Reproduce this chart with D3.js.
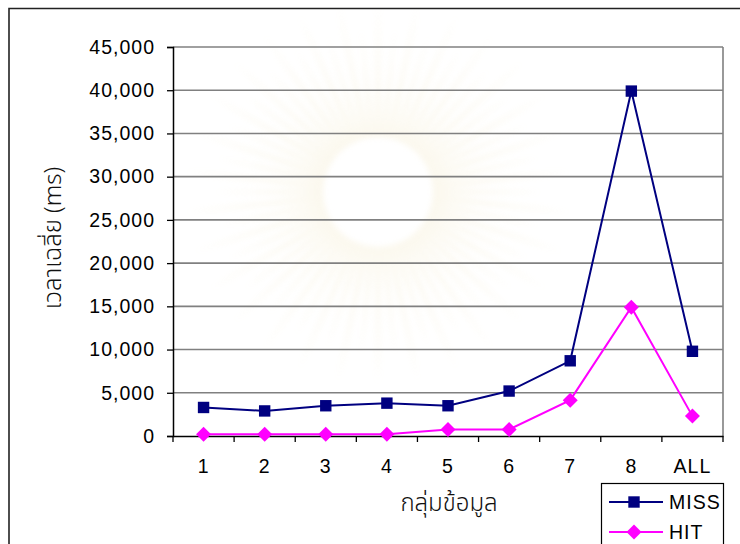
<!DOCTYPE html>
<html>
<head>
<meta charset="utf-8">
<script src="https://cdn.jsdelivr.net/npm/d3@7"></script>
<style>
  html, body { margin: 0; padding: 0; background: #fff; }
  svg { display: block; }
  .tick-label { font-family: "Liberation Sans", Arial, sans-serif; font-size: 19.5px; letter-spacing: 1px; fill: #000; }
  .thai { font-family: "Noto Sans Thai", "Tahoma", "Loma", "Garuda", "Noto Sans", sans-serif; font-size: 24px; font-weight: 300; fill: #111; }
</style>
</head>
<body>
<svg id="chart" width="740" height="544"></svg>
<script>
// Average response time per data group
const categories = ["1", "2", "3", "4", "5", "6", "7", "8", "ALL"];
const missValues = [3300, 2900, 3500, 3800, 3500, 5200, 8700, 39900, 9800];
const hitValues  = [200, 200, 200, 200, 750, 750, 4150, 14900, 2300];
const yTicks = [0, 5000, 10000, 15000, 20000, 25000, 30000, 35000, 40000, 45000];
const seriesNames = ["MISS", "HIT"];

const svg = d3.select("#chart");
const W = 740, H = 544;
const plot = { left: 173, right: 723, top: 47, bottom: 436 };

// faint seal-like sunburst in the background
const bg = svg.append("g").attr("opacity", 0.35);
const defs = svg.append("defs");
defs.append("filter").attr("id", "soft")
  .append("feGaussianBlur").attr("stdDeviation", 3);
const cx = 378, cy = 192;
const rays = d3.range(0, 360, 6);
bg.append("g").attr("filter", "url(#soft)")
  .selectAll("path").data(rays).join("path")
  .attr("d", a => {
    const r0 = 50, r1 = 165 + (Math.round(a / 6) % 2) * 30;
    const t = a * Math.PI / 180, dt = 2.2 * Math.PI / 180;
    const p = (r, ang) => [cx + r * Math.cos(ang), cy + r * Math.sin(ang)];
    return d3.line()([p(r0, t - dt), p(r1, t), p(r0, t + dt)]) + "Z";
  })
  .attr("fill", "#eedfae");
bg.append("circle").attr("cx", cx).attr("cy", cy).attr("r", 55).attr("fill", "#fff").attr("filter", "url(#soft)");

// outer frame (top and left edges visible)
svg.append("path")
  .attr("d", `M9,${H + 2} L9,8.5 L${W + 2},8.5`)
  .attr("fill", "none").attr("stroke", "#222").attr("stroke-width", 1.6);

const x = d3.scaleBand().domain(categories).range([plot.left, plot.right]);
const y = d3.scaleLinear().domain([0, 45000]).range([plot.bottom, plot.top]);

// horizontal gridlines
svg.append("g").selectAll("line").data(yTicks.filter(d => d > 0)).join("line")
  .attr("x1", plot.left).attr("x2", plot.right)
  .attr("y1", d => y(d)).attr("y2", d => y(d))
  .attr("stroke", "#808080").attr("stroke-width", 1.6);
// right edge of the plot area
svg.append("line")
  .attr("x1", plot.right).attr("x2", plot.right)
  .attr("y1", plot.top).attr("y2", plot.bottom)
  .attr("stroke", "#808080").attr("stroke-width", 1.6);

// y axis
const fmt = d3.format(",");
const yAxis = svg.append("g").attr("transform", `translate(${plot.left},0)`)
  .call(d3.axisLeft(y).tickValues(yTicks).tickFormat(fmt).tickSize(6).tickPadding(12));
yAxis.select(".domain").attr("stroke", "#000").attr("stroke-width", 1.5);
yAxis.selectAll(".tick line").attr("stroke", "#000").attr("stroke-width", 1.3);
yAxis.selectAll(".tick text").attr("class", "tick-label").attr("font-family", null).attr("font-size", null);

// x axis with ticks on category boundaries
const xAxis = svg.append("g").attr("transform", `translate(0,${plot.bottom})`)
  .call(d3.axisBottom(x).tickSize(0).tickPadding(23));
xAxis.select(".domain").attr("stroke", "#000").attr("stroke-width", 1.5);
xAxis.selectAll(".tick text").attr("class", "tick-label").attr("font-family", null).attr("font-size", null);
const boundaries = categories.map(c => x(c)).concat([x.range()[1]]);
xAxis.selectAll(".bound").data(boundaries).join("line")
  .attr("class", "bound")
  .attr("x1", d => d).attr("x2", d => d)
  .attr("y1", 0).attr("y2", 6)
  .attr("stroke", "#000").attr("stroke-width", 1.3);

// axis titles
svg.append("text").attr("class", "thai")
  .attr("text-anchor", "middle")
  .attr("x", 449).attr("y", 511)
  .text("กลุ่มข้อมูล");
svg.append("text").attr("class", "thai")
  .attr("text-anchor", "middle")
  .attr("transform", "translate(61,238) rotate(-90)")
  .text("เวลาเฉลี่ย (ms)");

// marker shapes: filled square and a square diamond
const squareMark = d3.symbol().type(d3.symbolSquare).size(130);
const diamondMark = () => "M0,-7.5L7.5,0L0,7.5L-7.5,0Z";

// series
const cxOf = c => x(c) + x.bandwidth() / 2;
const lineGen = d3.line().x(d => cxOf(d.c)).y(d => y(d.v));
const series = [
  { name: seriesNames[0], values: missValues, color: "#000080", mark: squareMark },
  { name: seriesNames[1], values: hitValues, color: "#ff00ff", mark: diamondMark }
];
series.forEach(s => {
  const pts = categories.map((c, i) => ({ c, v: s.values[i] }));
  svg.append("path").datum(pts)
    .attr("d", lineGen).attr("fill", "none")
    .attr("stroke", s.color).attr("stroke-width", 2);
  svg.append("g").selectAll("path").data(pts).join("path")
    .attr("transform", d => `translate(${cxOf(d.c)},${y(d.v)})`)
    .attr("d", s.mark)
    .attr("fill", s.color);
});

// legend
const lg = svg.append("g");
lg.append("rect").attr("x", 601.5).attr("y", 483.5).attr("width", 122).attr("height", 70)
  .attr("fill", "#fff").attr("stroke", "#000").attr("stroke-width", 1.2);
series.forEach((s, i) => {
  const ly = 502 + i * 30;
  lg.append("line").attr("x1", 609).attr("x2", 663).attr("y1", ly).attr("y2", ly)
    .attr("stroke", s.color).attr("stroke-width", 2);
  lg.append("path").attr("transform", `translate(634,${ly})`)
    .attr("d", s.mark).attr("fill", s.color);
  lg.append("text").attr("class", "tick-label").attr("x", 669).attr("y", ly + 7).text(s.name);
});
</script>
</body>
</html>
